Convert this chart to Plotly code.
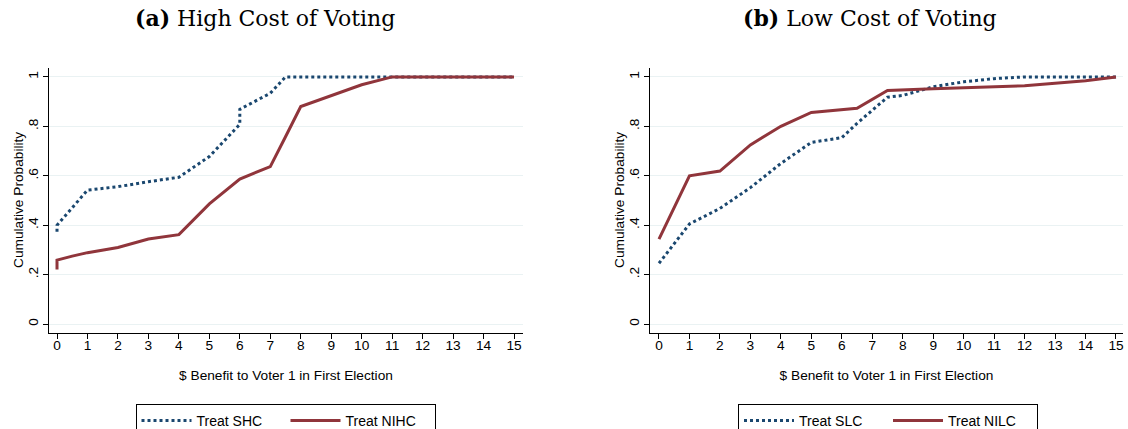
import plotly.graph_objects as go

# ---------- data ----------
shc_x = [0, 0, 1, 2, 3, 4, 5, 6, 6, 7, 7.5, 8, 9, 10, 11, 12, 13, 14, 15]
shc_y = [0.374, 0.40, 0.542, 0.556, 0.576, 0.594, 0.678, 0.808, 0.869, 0.934, 1.0, 1.0, 1.0, 1.0, 1.0, 1.0, 1.0, 1.0, 1.0]

nihc_x = [0, 0, 0.5, 1, 2, 3, 4, 5, 6, 7, 7.5, 8, 10, 11, 12, 13, 14, 15]
nihc_y = [0.221, 0.259, 0.275, 0.289, 0.31, 0.344, 0.362, 0.486, 0.587, 0.637, 0.758, 0.88, 0.968, 1.0, 1.0, 1.0, 1.0, 1.0]

slc_x = [0, 1, 2, 3, 4, 5, 6, 6.5, 7.5, 8, 9, 10, 11, 12, 13, 14, 15]
slc_y = [0.246, 0.405, 0.468, 0.552, 0.65, 0.735, 0.754, 0.812, 0.918, 0.925, 0.96, 0.98, 0.993, 1.0, 1.0, 1.0, 1.0]

nilc_x = [0, 1, 2, 3, 4, 5, 6.5, 7.5, 9, 10, 12, 14, 15]
nilc_y = [0.344, 0.60, 0.619, 0.725, 0.80, 0.856, 0.873, 0.945, 0.952, 0.955, 0.964, 0.984, 1.0]

x_ticks = list(range(0, 16))
y_tickvals = [0, 0.2, 0.4, 0.6, 0.8, 1]
y_ticktext = ["0", ".2", ".4", ".6", ".8", "1"]

titles = ["<b>(a)</b> High Cost of Voting", "<b>(b)</b> Low Cost of Voting"]
xtitle = "$ Benefit to Voter 1 in First Election"
ytitle = "Cumulative Probability"

# ---------- style ----------
BLUE = "#1a476f"
RED = "#90353b"
W, H = 1128, 429
T, B = 68, 96
ph = H - T - B
FS = 13.7

fig = go.Figure()
fig.add_trace(go.Scatter(x=shc_x, y=shc_y, mode="lines", name="Treat SHC",
                         line=dict(color=BLUE, width=3, dash="3px,3px"),
                         xaxis="x", yaxis="y", legend="legend"))
fig.add_trace(go.Scatter(x=nihc_x, y=nihc_y, mode="lines", name="Treat NIHC",
                         line=dict(color=RED, width=3),
                         xaxis="x", yaxis="y", legend="legend"))
fig.add_trace(go.Scatter(x=slc_x, y=slc_y, mode="lines", name="Treat SLC",
                         line=dict(color=BLUE, width=3, dash="3px,3px"),
                         xaxis="x2", yaxis="y2", legend="legend2"))
fig.add_trace(go.Scatter(x=nilc_x, y=nilc_y, mode="lines", name="Treat NILC",
                         line=dict(color=RED, width=3),
                         xaxis="x2", yaxis="y2", legend="legend2"))

font_sans = "Liberation Sans, Arial, sans-serif"

def xax(domain, rng, anchor):
    return dict(domain=domain, range=rng, anchor=anchor, tickvals=x_ticks,
                showgrid=False, zeroline=False, showline=True, linecolor="#000000",
                linewidth=1, ticks="outside", ticklen=5, tickcolor="#000000",
                ticklabelstandoff=-5,
                tickfont=dict(family=font_sans, size=FS, color="#000"),
                title=dict(text=xtitle, font=dict(family=font_sans, size=FS, color="#000"), standoff=17),
                automargin=False)

def yax(anchor):
    return dict(domain=[0, 1], range=[-0.036, 1.036], anchor=anchor,
                tickvals=y_tickvals, ticktext=y_ticktext, tickangle=-90,
                showgrid=True, gridcolor="#eaf2f3", gridwidth=1, zeroline=False,
                showline=True, linecolor="#000000", linewidth=1,
                ticks="outside", ticklen=5, tickcolor="#000000",
                tickfont=dict(family=font_sans, size=FS, color="#000"),
                automargin=False)

leg_common = dict(orientation="h", xanchor="center", y=(333 - 404) / ph, yanchor="top",
                  bordercolor="#000", borderwidth=1, bgcolor="white",
                  font=dict(family=font_sans, size=14, color="#000"), itemwidth=50,
                  entrywidth=84)

fig.update_layout(
    width=W, height=H,
    margin=dict(l=0, r=0, t=T, b=B, autoexpand=False),
    paper_bgcolor="white", plot_bgcolor="white",
    xaxis=xax([49 / W, 523 / W], [-0.263, 15.295], "y"),
    yaxis=yax("x"),
    xaxis2=xax([650 / W, 1123 / W], [-0.295, 15.23], "y2"),
    yaxis2=yax("x2"),
    legend=dict(x=285.5 / W, **leg_common),
    legend2=dict(x=888 / W, **leg_common),
    showlegend=True,
)

ann = []
for t, cx in zip(titles, (265, 870)):
    ann.append(dict(text=t, x=cx / W, y=(333 - 18) / ph, xref="paper", yref="paper",
                    showarrow=False, xanchor="center", yanchor="middle",
                    font=dict(family="DejaVu Serif, serif", size=22, color="#000")))
for px in (18, 619):
    ann.append(dict(text=ytitle, x=px / W, y=(333 - 200) / ph, xref="paper", yref="paper",
                    showarrow=False, textangle=-90, xanchor="center", yanchor="middle",
                    font=dict(family=font_sans, size=FS, color="#000")))
fig.update_layout(annotations=ann)

fig.write_html("out.html", config={"displayModeBar": False},
               post_script="document.body.style.margin='0';")
